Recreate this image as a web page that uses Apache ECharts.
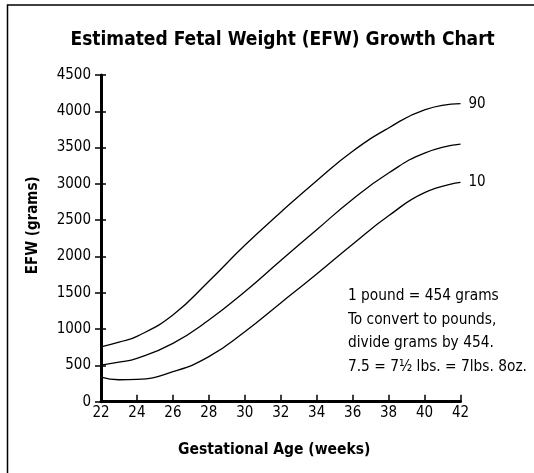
<!DOCTYPE html>
<html>
<head>
<meta charset="utf-8">
<script src="https://cdn.jsdelivr.net/npm/echarts@6/dist/echarts.min.js"></script>
<style>
html, body { margin: 0; padding: 0; background: #fff; }
#efw-chart { width: 534px; height: 473px; }
</style>
</head>
<body>
<div id="efw-chart"></div>
<script>
// gestational age in weeks
var weeks = [22, 23, 24, 26, 28, 30, 32, 34, 36, 38, 40, 42];
// percentile curves, grams
var p90 = [755, 820, 900, 1195, 1660, 2155, 2610, 3045, 3450, 3770, 4020, 4105];
var p50 = [505, 545, 597, 804, 1125, 1515, 1945, 2368, 2790, 3150, 3425, 3548];
var p10 = [338, 302, 308, 413, 620, 964, 1360, 1760, 2170, 2560, 2880, 3020];
var yTicks = [0, 500, 1000, 1500, 2000, 2500, 3000, 3500, 4000, 4500];
var noteLines = ['1 pound = 454 grams', 'To convert to pounds,', 'divide grams by 454.', '7.5 = 7½ lbs. = 7lbs. 8oz.'];

var FONT = '"DejaVu Sans Condensed", "Liberation Sans Narrow", sans-serif';

var toPairs = function(vals) {
	return weeks.map(function(w, i) { return [w, vals[i]]; });
};

var makeSeries = function(name, vals, label) {
	return {
		name : name,
		type : 'line',
		smooth : 0.5,
		symbol : 'none',
		data : toPairs(vals),
		lineStyle : { color : '#000', width : 1.3 },
		endLabel : {
			show : !!label,
			formatter : label || '',
			distance : 8,
			color : '#000',
			fontFamily : FONT,
			fontSize : 15
		}
	};
};

var chart = echarts.init(document.getElementById('efw-chart'));

var option = {
	animation : false,
	backgroundColor : '#fff',
	grid : { left : 101, right : 73.5, top : 75, bottom : 71.3, containLabel : false },
	xAxis : {
		type : 'value',
		min : 22,
		max : 42,
		interval : 2,
		name : 'Gestational Age (weeks)',
		nameLocation : 'middle',
		nameGap : 40,
		nameTextStyle : { fontFamily : FONT, fontWeight : 'bold', fontSize : 15.5, color : '#000', padding : [0, 13, 0, 0] },
		axisLine : { lineStyle : { color : '#000', width : 3 } },
		axisTick : { inside : true, length : 7, lineStyle : { color : '#000', width : 1.5 } },
		axisLabel : { fontFamily : FONT, fontSize : 15, color : '#000', margin : 4 },
		splitLine : { show : false }
	},
	yAxis : [ {
		type : 'value',
		min : 0,
		max : 4500,
		interval : 500,
		name : 'EFW (grams)',
		nameLocation : 'middle',
		nameGap : 60,
		nameRotate : 90,
		nameTextStyle : { fontFamily : FONT, fontWeight : 'bold', fontSize : 15, color : '#000', padding : [0, 0, 0, 26] },
		axisLine : { lineStyle : { color : '#000', width : 3 } },
		axisTick : { length : 6, lineStyle : { color : '#000', width : 1.5 } },
		axisLabel : {
			fontFamily : FONT, fontSize : 15, color : '#000', margin : 10,
			formatter : function(v) { return yTicks.indexOf(v) >= 0 ? String(v) : ''; }
		},
		splitLine : { show : false }
	}, {
		// second copy of the axis only for the inner half of the ticks
		type : 'value',
		min : 0,
		max : 4500,
		interval : 500,
		position : 'left',
		axisLine : { show : false },
		axisTick : { inside : true, length : 5, lineStyle : { color : '#000', width : 1.5 } },
		axisLabel : { show : false },
		splitLine : { show : false }
	} ],
	series : [
		makeSeries('90th', p90, '90'),
		makeSeries('50th', p50, null),
		makeSeries('10th', p10, '10')
	],
	graphic : [ {
		type : 'rect',
		shape : { x : 7.5, y : 5, width : 700, height : 700 },
		style : { fill : 'none', stroke : '#000', lineWidth : 1.5 },
		silent : true
	}, {
		type : 'text',
		style : {
			x : 282.6,
			y : 40,
			text : 'Estimated Fetal Weight (EFW) Growth Chart',
			textAlign : 'center',
			textVerticalAlign : 'middle',
			fontFamily : FONT,
			fontWeight : 'bold',
			fontSize : 19,
			fill : '#000'
		}
	}, {
		type : 'text',
		left : 348,
		top : 284,
		style : {
			text : noteLines.join('\n'),
			fontFamily : FONT,
			fontSize : 15.3,
			lineHeight : 23.7,
			fill : '#000'
		}
	} ]
};

chart.setOption(option);
</script>
</body>
</html>
